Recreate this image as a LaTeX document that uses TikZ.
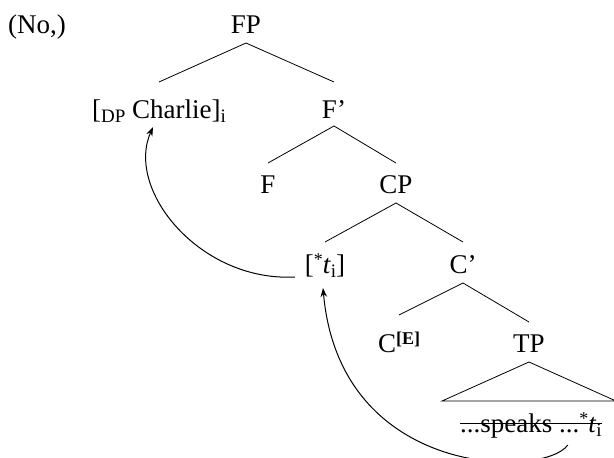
\documentclass[tikz,border=0pt]{standalone}
\usepackage{fontspec}
\setmainfont{Liberation Serif}
\usetikzlibrary{arrows.meta}
\newcommand{\lsub}[1]{\raisebox{-4pt}{\fontsize{19}{20}\selectfont #1}}
\newcommand{\lsup}[1]{\raisebox{8pt}{\fontsize{18}{20}\selectfont #1}}
\begin{document}
\begin{tikzpicture}[x=1pt,y=-1pt,
  lab/.style={anchor=base,inner sep=0pt,outer sep=0pt,font=\fontsize{27}{31}\selectfont},
  edge/.style={line width=0.8pt},
  mv/.style={line width=1pt,-{Stealth[length=9pt,width=6.5pt]}}]
\useasboundingbox (0,0) rectangle (614,458);
\clip (0,0) rectangle (614,458);
\node[lab] (no) at (37,33) {(No,)};
\node[lab] (FP) at (246,33) {FP};
\node[lab] (DP) at (159,118) {[\lsub{DP} Charlie]\lsub{i}};
\node[lab] (Fb) at (334,118) {F’};
\node[lab] (F) at (268,193) {F};
\node[lab] (CP) at (396,193) {CP};
\node[lab] (tr) at (325,273) {[\lsup{*}\textit{t}\lsub{i}]};
\node[lab] (Cb) at (463,273) {C’};
\node[lab] (C) at (399,352) {C\lsup{\textbf{[E]}}};
\node[lab] (TP) at (529,352) {TP};
\node[lab] (spk) at (531,432) {...speaks ...\lsup{*}\textit{t}\lsub{i}};
% edges
\coordinate (FPb) at ([yshift=-10pt]FP.base);
\draw[edge] (FPb) -- ([yshift=36pt]DP.base);
\draw[edge] (FPb) -- ([yshift=36pt]Fb.base);
\coordinate (Fbb) at ([yshift=-8pt]Fb.base);
\draw[edge] (Fbb) -- ([yshift=30pt]F.base);
\draw[edge] (Fbb) -- ([yshift=30pt]CP.base);
\coordinate (CPb) at ([yshift=-10pt]CP.base);
\draw[edge] (CPb) -- ([yshift=31pt]tr.base);
\draw[edge] (CPb) -- ([yshift=31pt]Cb.base);
\coordinate (Cbb) at ([yshift=-10pt]Cb.base);
\draw[edge] (Cbb) -- ([yshift=37pt]C.base);
\draw[edge] (Cbb) -- ([yshift=30pt]TP.base);
% triangle
\coordinate (apex) at ([yshift=-10pt]TP.base);
\coordinate (bl) at (442,401);
\coordinate (br) at (616,401);
\draw[edge] (bl) -- (apex) -- (br) -- cycle;
% strike
\draw[edge] ([yshift=9pt]spk.base west) -- ([yshift=9pt]spk.base east);
% movement arrows
\draw[mv] ([xshift=-10pt,yshift=-4pt]tr.base west) .. controls (200,282) and (125,190) .. ([xshift=-6pt,yshift=-5pt]DP.south);
\draw[mv] ([xshift=-34pt,yshift=-13pt]spk.base east) .. controls (545,478) and (340,480) .. ([xshift=-2pt,yshift=-11pt]tr.south);
\end{tikzpicture}
\end{document}
